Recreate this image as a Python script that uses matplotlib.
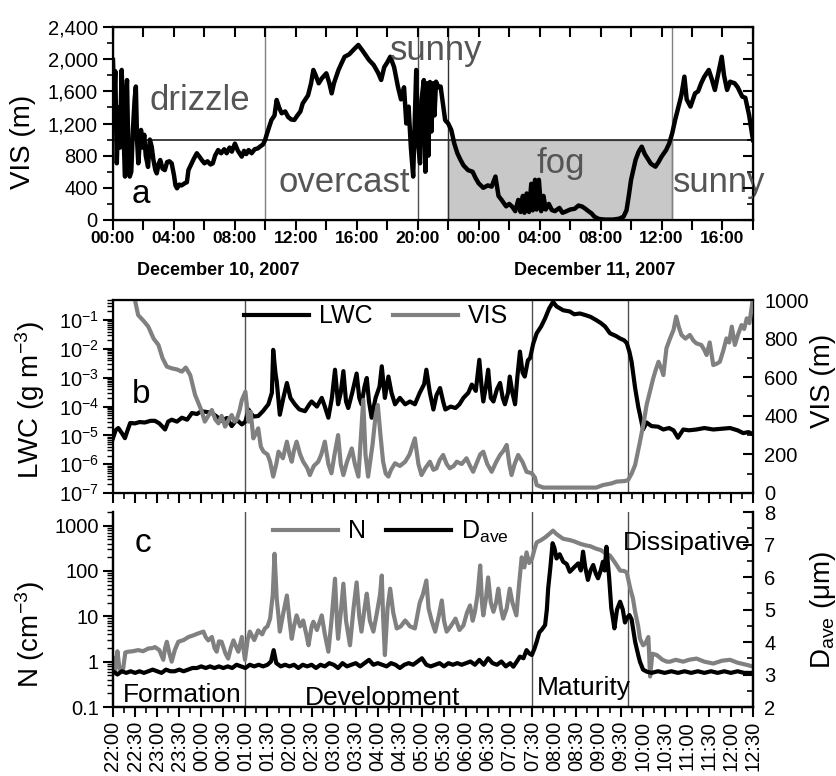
import numpy as np
import matplotlib
matplotlib.use("Agg")
import matplotlib.pyplot as plt
from matplotlib.ticker import FixedLocator, MultipleLocator, StrMethodFormatter, LogLocator, NullFormatter, FixedFormatter

plt.rcParams['font.family'] = ['Liberation Sans', 'DejaVu Sans']
plt.rcParams['mathtext.fontset'] = 'custom'
plt.rcParams['mathtext.rm'] = 'Liberation Sans'
plt.rcParams['mathtext.it'] = 'Liberation Sans:italic'
plt.rcParams['mathtext.default'] = 'regular'

# ---- panel a : visibility, hours since Dec 10 00:00
a_hours = [0.00, 0.08, 0.15, 0.25, 0.35, 0.45, 0.57, 0.68, 0.79, 0.85, 0.92, 1.00, 1.10, 1.20, 1.30,
           1.42, 1.50, 1.58, 1.66, 1.75, 1.84, 1.95, 2.05, 2.15, 2.30, 2.42, 2.54, 2.65, 2.78, 2.87,
           3.00, 3.10, 3.25, 3.40, 3.55, 3.70, 3.85, 4.00, 4.10, 4.20, 4.35, 4.50, 4.70, 4.85, 4.95,
           5.15, 5.30, 5.50, 5.70, 5.85, 6.00, 6.20, 6.40, 6.55, 6.70, 6.90, 7.10, 7.30, 7.46, 7.65,
           7.80, 8.00, 8.20, 8.45, 8.60, 8.75, 8.90, 9.10, 9.30, 9.50, 9.70, 9.85, 9.98, 10.15, 10.40,
           10.60, 10.74, 10.90, 11.07, 11.30, 11.50, 11.70, 11.90, 12.10, 12.30, 12.45, 12.60, 12.80,
           13.00, 13.15, 13.30, 13.50, 13.70, 14.00, 14.20, 14.35, 14.50, 14.80, 15.00, 15.20, 15.50,
           15.80, 16.10, 16.40, 16.80, 17.10, 17.40, 17.60, 17.80, 18.00, 18.20, 18.45, 18.70, 18.90,
           19.10, 19.25, 19.40, 19.55, 19.70, 19.80, 19.90, 20.00, 20.15, 20.25, 20.40, 20.50, 20.60,
           20.70, 20.80, 20.90, 21.00, 21.10, 21.20, 21.35, 21.50, 21.65, 21.80, 22.00, 22.20, 22.40,
           22.60, 22.80, 23.00, 23.30, 23.60, 23.80, 24.00, 24.30, 24.60, 24.85, 25.10, 25.30, 25.50,
           25.80, 26.00, 26.20, 26.40, 26.60, 26.75, 26.90, 27.00, 27.15, 27.30, 27.45, 27.55, 27.70,
           27.80, 27.95, 28.10, 28.25, 28.40, 28.60, 28.80, 29.00, 29.30, 29.50, 29.70, 30.00, 30.30,
           30.55, 30.80, 31.00, 31.20, 31.40, 31.60, 31.90, 32.30, 32.80, 33.20, 33.50, 33.70, 33.85,
           34.00, 34.30, 34.50, 34.70, 34.90, 35.10, 35.30, 35.60, 35.80, 36.00, 36.30, 36.50, 36.70,
           36.90, 37.10, 37.30, 37.50, 37.65, 37.90, 38.20, 38.40, 38.60, 38.80, 39.10, 39.30, 39.50,
           39.70, 39.95, 40.10, 40.30, 40.50, 40.80, 41.00, 41.30, 41.50, 41.75, 42.00]
a_vis = [1990, 1500, 1850, 705, 1400, 900, 1866, 1100, 540, 1500, 1740, 900, 540, 600, 1100,
         1500, 1660, 1000, 705, 950, 1120, 900, 1060, 800, 660, 1000, 912, 750, 620, 580,
         700, 746, 640, 620, 720, 730, 705, 560, 430, 394, 440, 430, 456, 470, 620,
         700, 760, 830, 780, 740, 705, 730, 690, 705, 800, 870, 830, 880, 830, 900,
         850, 950, 860, 788, 860, 820, 870, 830, 880, 890, 920, 940, 995, 1100, 1244,
         1300, 1493, 1400, 1327, 1350, 1280, 1250, 1244, 1300, 1350, 1450, 1493, 1550,
         1700, 1866, 1800, 1700, 1760, 1824, 1700, 1575, 1700, 1866, 1950, 2030, 2060,
         2120, 2177, 2100, 1990, 1930, 1830, 1741, 1900, 1960, 2030, 1900, 1658, 1500,
         1650, 1200, 1410, 900, 540, 1200, 1866, 1000, 705, 1500, 1740, 600, 1700,
         800, 1716, 1100, 1700, 1300, 1720, 1650, 1660, 1450, 1240, 1200, 1120, 950,
         830, 750, 680, 620, 600, 520, 456, 400, 430, 415, 540, 300, 250,
         170, 200, 166, 110, 250, 100, 300, 90, 330, 100, 450, 120, 500,
         130, 500, 110, 300, 130, 200, 124, 110, 150, 90, 104, 130, 140,
         180, 166, 140, 110, 83, 40, 12, 5, 5, 15, 40, 120, 300,
         500, 750, 850, 912, 820, 760, 700, 663, 720, 788, 870, 950, 1078,
         1250, 1400, 1550, 1783, 1500, 1410, 1575, 1600, 1700, 1780, 1866, 1750, 1617,
         1800, 2030, 1800, 1617, 1720, 1700, 1650, 1534, 1520, 1300, 995]
a_xticklabels = ['00:00', '04:00', '08:00', '12:00', '16:00', '20:00',
                 '00:00', '04:00', '08:00', '12:00', '16:00']
a_dates = ['December 10, 2007', 'December 11, 2007']
a_vlines = [10.0, 20.0, 22.0, 36.7]
vis_threshold = 1000
fog_start, fog_end = 22.0, 36.7

# ---- panels b, c : hours since Dec 10 22:00
bc_xticklabels = ['22:00', '22:30', '23:00', '23:30', '00:00', '00:30', '01:00', '01:30',
                  '02:00', '02:30', '03:00', '03:30', '04:00', '04:30', '05:00', '05:30',
                  '06:00', '06:30', '07:00', '07:30', '08:00', '08:30', '09:00', '09:30',
                  '10:00', '10:30', '11:00', '11:30', '12:00', '12:30']
phase_bounds = [3.0, 9.5, 11.67]

lwc_t = [0.00, 0.06, 0.12, 0.20, 0.27, 0.33, 0.39, 0.50, 0.60, 0.72, 0.85, 0.95, 1.05, 1.18, 1.25,
         1.33, 1.45, 1.56, 1.68, 1.79, 1.90, 2.00, 2.12, 2.24, 2.35, 2.46, 2.58, 2.69, 2.80, 2.92,
         3.00, 3.07, 3.18, 3.29, 3.40, 3.52, 3.60, 3.63, 3.68, 3.71, 3.78, 3.86, 3.94, 4.02, 4.12,
         4.22, 4.35, 4.45, 4.50, 4.62, 4.73, 4.80, 4.88, 4.96, 5.03, 5.10, 5.16, 5.22, 5.28, 5.33,
         5.42, 5.52, 5.58, 5.63, 5.70, 5.75, 5.80, 5.86, 5.95, 6.04, 6.09, 6.16, 6.24, 6.31, 6.39,
         6.50, 6.62, 6.73, 6.84, 6.95, 7.05, 7.10, 7.18, 7.26, 7.33, 7.41, 7.48, 7.53, 7.65, 7.76,
         7.85, 7.94, 8.05, 8.13, 8.22, 8.30, 8.35, 8.39, 8.45, 8.50, 8.56, 8.62, 8.70, 8.77, 8.83,
         8.88, 8.95, 8.99, 9.05, 9.11, 9.16, 9.22, 9.28, 9.33, 9.40, 9.45, 9.52, 9.60, 9.70, 9.79,
         9.88, 9.97, 10.05, 10.20, 10.35, 10.45, 10.58, 10.70, 10.82, 10.95, 11.05, 11.15, 11.26,
         11.40, 11.49, 11.58, 11.64, 11.70, 11.75, 11.83, 11.90, 11.94, 12.01, 12.09, 12.20, 12.35,
         12.47, 12.60, 12.70, 12.80, 12.92, 13.05, 13.22, 13.40, 13.60, 13.80, 13.98, 14.15, 14.28,
         14.40, 14.50]
lwc = [8e-6, 1.5e-5, 1.8e-5, 1.2e-5, 8e-6, 1.5e-5, 2.7e-5, 2.6e-5, 2.9e-5, 2.8e-5, 3.2e-5, 3.2e-5,
       2.6e-5, 1.6e-5, 3.0e-5, 3.5e-5, 3.0e-5, 4.1e-5, 3.5e-5, 6.0e-5, 5.5e-5, 6.9e-5, 6.5e-5,
       6.0e-5, 4.5e-5, 3.2e-5, 4.0e-5, 2.1e-5, 3.5e-5, 2.4e-5, 3.0e-5, 7.9e-5, 4.5e-5, 4.7e-5,
       7.0e-5, 1.2e-4, 3.0e-4, 9.3e-3, 1.5e-3, 7.4e-4, 5.2e-5, 2.0e-4, 6.6e-4, 2.0e-4, 1.2e-4,
       8.0e-5, 6.9e-5, 1.2e-4, 1.5e-4, 1.0e-4, 2.0e-4, 1.0e-4, 4.1e-5, 2.0e-4, 1.9e-3, 1.2e-4,
       3.0e-4, 1.7e-3, 1.5e-4, 8.9e-5, 3.0e-4, 1.4e-3, 2.0e-4, 1.2e-4, 5.0e-4, 9.8e-4, 1.5e-4,
       4.1e-5, 2.0e-4, 5.0e-4, 2.5e-3, 2.0e-4, 1.1e-3, 3.0e-4, 1.2e-4, 2.0e-4, 1.2e-4, 1.5e-4,
       1.2e-4, 3.0e-4, 6.0e-4, 1.9e-3, 3.0e-4, 7.9e-5, 2.5e-4, 4.4e-4, 1.5e-4, 7.9e-5, 1.0e-4,
       8.9e-5, 1.2e-4, 2.0e-4, 3.0e-4, 5.8e-4, 3.5e-4, 4.2e-3, 5.0e-4, 1.5e-4, 5.0e-4, 1.9e-3,
       2.0e-4, 1.5e-4, 4.0e-4, 6.6e-4, 2.0e-4, 1.2e-4, 3.0e-4, 1.1e-3, 3.0e-4, 1.2e-4, 1.0e-3,
       8.1e-3, 1.5e-3, 1.1e-3, 4.0e-3, 4.8e-3, 1.5e-2, 3.5e-2, 6.0e-2, 1.15e-1, 2.5e-1, 4.3e-1,
       3.0e-1, 2.2e-1, 2.0e-1, 1.6e-1, 1.7e-1, 1.5e-1, 1.3e-1, 1.0e-1, 8.0e-2, 6.0e-2, 3.5e-2,
       2.8e-2, 2.3e-2, 2.0e-2, 1.6e-2, 8.0e-3, 3.6e-3, 4.4e-4, 1.0e-4, 5.2e-5, 1.6e-5, 2.8e-5,
       2.1e-5, 2.0e-5, 1.6e-5, 1.8e-5, 1.5e-5, 8.3e-6, 1.6e-5, 1.5e-5, 1.6e-5, 1.8e-5, 1.6e-5,
       1.7e-5, 1.8e-5, 1.5e-5, 1.2e-5, 1.3e-5, 1.1e-5]

visb_t = [0.45, 0.57, 0.70, 0.80, 0.92, 1.03, 1.12, 1.22, 1.33, 1.45, 1.56, 1.65, 1.75, 1.86, 2.00,
          2.08, 2.16, 2.24, 2.32, 2.39, 2.46, 2.54, 2.62, 2.69, 2.75, 2.80, 2.87, 2.92, 3.00, 3.07,
          3.12, 3.18, 3.24, 3.29, 3.35, 3.41, 3.50, 3.56, 3.63, 3.70, 3.75, 3.85, 3.94, 4.00, 4.05,
          4.10, 4.16, 4.24, 4.31, 4.40, 4.46, 4.55, 4.65, 4.72, 4.80, 4.88, 4.95, 5.02, 5.10, 5.16,
          5.22, 5.30, 5.41, 5.48, 5.56, 5.62, 5.67, 5.72, 5.78, 5.88, 5.95, 6.00, 6.06, 6.12, 6.18,
          6.24, 6.30, 6.39, 6.50, 6.62, 6.72, 6.84, 6.92, 6.99, 7.08, 7.18, 7.26, 7.33, 7.40, 7.48,
          7.56, 7.63, 7.72, 7.79, 7.90, 8.01, 8.09, 8.16, 8.25, 8.32, 8.39, 8.48, 8.58, 8.68, 8.77,
          8.85, 8.92, 8.98, 9.03, 9.10, 9.18, 9.28, 9.37, 9.49, 9.56, 9.60, 9.75, 10.50, 10.95,
          11.10, 11.30, 11.41, 11.60, 11.67, 11.75, 11.83, 11.94, 12.02, 12.09, 12.17, 12.24,
          12.30, 12.36, 12.43, 12.47, 12.54, 12.62, 12.70, 12.76, 12.82, 12.88, 12.97, 13.07,
          13.15, 13.22, 13.33, 13.40, 13.45, 13.52, 13.60, 13.68, 13.75, 13.83, 13.90, 13.96,
          14.02, 14.09, 14.16, 14.24, 14.30, 14.36, 14.42, 14.50]
visb = [1050, 922, 890, 862, 800, 767, 700, 655, 646, 640, 629, 650, 611, 508, 430,
        370, 400, 430, 380, 361, 400, 344, 380, 404, 370, 378, 430, 482, 525, 370,
        420, 283, 310, 335, 240, 214, 200, 162, 85, 150, 214, 180, 266, 200, 162,
        220, 266, 200, 162, 130, 93, 140, 162, 200, 266, 150, 102, 200, 300, 150,
        93, 160, 231, 150, 85, 300, 482, 200, 85, 250, 400, 456, 300, 162, 100,
        85, 120, 154, 140, 162, 200, 283, 150, 93, 130, 162, 120, 128, 170, 197,
        150, 128, 140, 162, 150, 180, 140, 110, 160, 200, 214, 150, 110, 160, 197,
        220, 249, 150, 93, 150, 197, 160, 110, 102, 80, 41, 28, 28, 28,
        41, 50, 59, 62, 67, 100, 145, 266, 360, 456, 530, 594,
        640, 680, 640, 611, 750, 800, 845, 914, 860, 819, 800, 819,
        790, 775, 767, 740, 715, 780, 663, 670, 680, 740, 801, 780,
        862, 767, 820, 870, 850, 905, 880, 1009]

n_t = [0.00, 0.05, 0.10, 0.14, 0.18, 0.23, 0.28, 0.35, 0.45, 0.57, 0.68, 0.80, 0.90, 0.95, 1.05,
       1.14, 1.18, 1.22, 1.28, 1.33, 1.40, 1.48, 1.60, 1.71, 1.82, 1.93, 2.05, 2.10, 2.16, 2.24,
       2.30, 2.35, 2.40, 2.46, 2.55, 2.61, 2.67, 2.73, 2.80, 2.84, 2.92, 2.99, 3.05, 3.10, 3.20,
       3.29, 3.38, 3.44, 3.50, 3.56, 3.62, 3.66, 3.71, 3.75, 3.78, 3.86, 3.94, 4.00, 4.05, 4.10,
       4.16, 4.24, 4.31, 4.38, 4.43, 4.50, 4.54, 4.62, 4.73, 4.80, 4.88, 4.95, 5.03, 5.08, 5.10,
       5.16, 5.22, 5.28, 5.37, 5.45, 5.52, 5.58, 5.63, 5.70, 5.75, 5.82, 5.90, 5.98, 6.05, 6.09,
       6.12, 6.16, 6.22, 6.28, 6.35, 6.43, 6.52, 6.62, 6.73, 6.84, 6.95, 7.02, 7.10, 7.15, 7.22,
       7.30, 7.38, 7.45, 7.50, 7.56, 7.65, 7.76, 7.85, 7.94, 8.02, 8.09, 8.15, 8.20, 8.26, 8.32,
       8.36, 8.39, 8.45, 8.50, 8.56, 8.62, 8.68, 8.73, 8.79, 8.84, 8.92, 8.99, 9.05, 9.14, 9.20,
       9.26, 9.32, 9.37, 9.43, 9.49, 9.55, 9.60, 9.70, 9.79, 9.88, 9.97, 10.05, 10.20, 10.35,
       10.45, 10.58, 10.70, 10.82, 10.95, 11.05, 11.15, 11.26, 11.38, 11.49, 11.58, 11.64, 11.72,
       11.78, 11.83, 11.90, 11.94, 12.01, 12.06, 12.13, 12.17, 12.22, 12.32, 12.45, 12.55, 12.62,
       12.75, 12.92, 13.05, 13.22, 13.40, 13.60, 13.80, 13.98, 14.15, 14.36, 14.50]
n_conc = [1.2, 0.6, 1.7, 0.8, 0.6, 0.7, 1.6, 1.66, 1.7, 1.8, 1.7, 1.95, 2.0, 2.1, 1.8,
          1.1, 2.0, 2.75, 1.5, 1.0, 1.8, 2.75, 3.0, 3.5, 3.8, 4.2, 4.6, 3.5, 2.95, 3.5,
          2.0, 1.66, 2.8, 2.75, 1.5, 1.17, 2.0, 2.95, 2.0, 1.66, 3.5, 1.1, 3.0, 4.6, 3.0,
          4.9, 4.0, 5.4, 6.0, 8.9, 30, 240, 24.5, 10, 4.6, 12, 28.8, 8, 3.2, 6,
          10.5, 6, 8.1, 4, 2.3, 6, 7.6, 5, 10.5, 4, 1.66, 8, 67.6, 6, 3.2,
          12, 52.5, 8, 2.3, 15, 56, 10, 4.6, 15, 31.6, 8, 4.6, 12, 30, 79.4,
          10, 1.4, 15, 40.7, 12, 5.4, 6, 8.1, 6, 5.4, 20, 30, 61.7, 15, 8,
          4.6, 10, 22.4, 8, 4.6, 6, 8.9, 5, 6.3, 12, 17.4, 8, 12.6, 30, 132,
          20, 10.5, 25, 72, 20, 12.6, 20, 40.7, 15, 8.9, 15, 40.7, 20, 10.5, 50,
          200, 120, 257, 150, 182, 300, 427, 480, 550, 650, 776, 650, 513, 480,
          450, 400, 370, 350, 309, 290, 250, 219, 150, 102, 100, 93, 41,
          25, 12.6, 6, 3.2, 2.3, 2.5, 3.5, 0.47, 1.5, 1.4, 1.1, 1.0, 1.0,
          1.1, 1.0, 1.1, 1.17, 1.0, 0.91, 1.05, 1.1, 0.95, 0.85, 0.78]

d_t = [0.00, 0.10, 0.20, 0.30, 0.40, 0.50, 0.60, 0.70, 0.80, 0.90, 1.00, 1.10, 1.20, 1.30, 1.40,
       1.50, 1.60, 1.70, 1.80, 1.90, 2.00, 2.10, 2.20, 2.30, 2.40, 2.50, 2.60, 2.70, 2.80, 2.90,
       3.00, 3.10, 3.20, 3.30, 3.40, 3.50, 3.58, 3.64, 3.70, 3.80, 3.90, 4.00, 4.10, 4.20, 4.30,
       4.40, 4.50, 4.60, 4.70, 4.80, 4.90, 5.00, 5.10, 5.20, 5.30, 5.40, 5.50, 5.60, 5.70, 5.80,
       5.90, 6.00, 6.10, 6.20, 6.30, 6.40, 6.50, 6.60, 6.70, 6.80, 6.90, 7.00, 7.10, 7.20, 7.30,
       7.40, 7.50, 7.60, 7.70, 7.80, 7.90, 8.00, 8.10, 8.20, 8.30, 8.40, 8.50, 8.60, 8.70, 8.80,
       8.90, 9.00, 9.07, 9.15, 9.22, 9.30, 9.37, 9.43, 9.49, 9.55, 9.60, 9.66, 9.71, 9.79, 9.83,
       9.86, 9.91, 9.96, 10.00, 10.05, 10.12, 10.20, 10.28, 10.35, 10.45, 10.54, 10.60, 10.65,
       10.70, 10.76, 10.82, 10.88, 10.94, 10.99, 11.05, 11.10, 11.14, 11.18, 11.24, 11.29, 11.33,
       11.36, 11.42, 11.49, 11.55, 11.60, 11.64, 11.70, 11.75, 11.83, 11.90, 11.94, 12.01, 12.09,
       12.20, 12.35, 12.50, 12.65, 12.80, 12.95, 13.10, 13.25, 13.40, 13.55, 13.70, 13.85, 14.00,
       14.15, 14.30, 14.50]
d_ave = [3.1, 3.0, 3.1, 3.05, 3.1, 3.05, 3.1, 3.05, 3.1, 3.15, 3.1, 3.05, 3.15, 3.1, 3.1,
         3.15, 3.1, 3.15, 3.2, 3.2, 3.25, 3.2, 3.25, 3.2, 3.25, 3.2, 3.25, 3.2, 3.3, 3.25,
         3.2, 3.3, 3.25, 3.3, 3.25, 3.3, 3.4, 3.75, 3.35, 3.25, 3.3, 3.25, 3.3, 3.2, 3.3,
         3.25, 3.3, 3.2, 3.3, 3.25, 3.35, 3.3, 3.2, 3.35, 3.25, 3.3, 3.35, 3.25, 3.35, 3.45,
         3.3, 3.35, 3.3, 3.25, 3.35, 3.3, 3.2, 3.3, 3.35, 3.3, 3.4, 3.5, 3.3, 3.25, 3.3,
         3.35, 3.25, 3.35, 3.3, 3.35, 3.3, 3.35, 3.4, 3.3, 3.45, 3.3, 3.5, 3.35, 3.3, 3.4,
         3.25, 3.35, 3.24, 3.4, 3.55, 3.5, 3.75, 3.65, 3.6, 3.8, 4.01, 4.3, 4.37, 4.52, 5.0,
         5.65, 6.3, 7.04, 6.9, 6.57, 6.7, 6.47, 6.4, 6.16, 6.3, 6.42, 6.2, 6.78,
         6.3, 5.91, 6.2, 6.37, 6.1, 5.96, 6.2, 6.47, 6.2, 6.93, 6.0, 5.04, 4.7,
         4.42, 5.0, 5.24, 5.0, 4.6, 4.73, 4.83, 4.7, 4.01, 3.6, 3.39, 3.15, 3.09,
         3.05, 3.1, 3.05, 3.1, 3.05, 3.1, 3.05, 3.1, 3.05, 3.1, 3.05, 3.1, 3.05,
         3.1, 3.05, 3.05]

grey = '#808080'
txt_grey = '#555555'
tick_fs = 14.5

fig = plt.figure(figsize=(8.37, 7.76), dpi=100)
ax_a = fig.add_axes([0.135, 0.7165, 0.7646, 0.2487])
ax_b = fig.add_axes([0.135, 0.3647, 0.7646, 0.2487])
ax_c = fig.add_axes([0.135, 0.0889, 0.7646, 0.2513])

def style_axes(ax):
    for s in ax.spines.values():
        s.set_linewidth(1.6)

# ---------------- panel a
style_axes(ax_a)
ax_a.fill_between([fog_start, fog_end], 0, vis_threshold, facecolor='#c8c8c8',
                  edgecolor=grey, linewidth=1.0, zorder=1)
ax_a.axhline(vis_threshold, color='#303030', lw=1.3, zorder=2)
for xv, col in zip(a_vlines, [grey, '#505050', '#303030', grey]):
    ax_a.axvline(xv, color=col, lw=1.0, zorder=2)
ax_a.plot(a_hours, a_vis, color='black', lw=3.2, zorder=3)
ax_a.set_xlim(0, 42)
ax_a.set_ylim(0, 2400)
ax_a.xaxis.set_major_locator(FixedLocator(np.arange(0, 41, 4)))
ax_a.xaxis.set_major_formatter(FixedFormatter(a_xticklabels))
ax_a.xaxis.set_minor_locator(MultipleLocator(2))
ax_a.yaxis.set_major_locator(MultipleLocator(400))
ax_a.yaxis.set_minor_locator(MultipleLocator(200))
ax_a.yaxis.set_major_formatter(StrMethodFormatter('{x:,.0f}'))
ax_a.tick_params(axis='x', which='both', direction='out', length=7, width=1.5,
                 labelsize=12.5, pad=1)
ax_a.tick_params(axis='y', which='major', direction='out', length=7, width=1.5,
                 labelsize=tick_fs, pad=4)
ax_a.tick_params(axis='y', which='minor', direction='out', length=4, width=1.2)
for lab in ax_a.get_xticklabels():
    lab.set_fontweight('bold')
ax_a2 = ax_a.twinx()
ax_a2.set_ylim(0, 2400)
ax_a2.yaxis.set_major_locator(MultipleLocator(400))
ax_a2.yaxis.set_minor_locator(MultipleLocator(200))
ax_a2.tick_params(axis='y', which='major', direction='in', length=7, width=1.5, labelright=False)
ax_a2.tick_params(axis='y', which='minor', direction='in', length=4, width=1.2)
ax_a3 = ax_a.twiny()
ax_a3.set_xlim(0, 42)
ax_a3.xaxis.set_major_locator(MultipleLocator(2))
ax_a3.tick_params(axis='x', direction='in', length=7, width=1.5, labeltop=False)

ax_a.text(5.7, 1368, 'drizzle', color=txt_grey, fontsize=25, ha='center', va='baseline')
ax_a.text(15.16, 348, 'overcast', color=txt_grey, fontsize=25, ha='center', va='baseline')
ax_a.text(21.2, 1990, 'sunny', color=txt_grey, fontsize=25, ha='center', va='baseline')
ax_a.text(29.4, 585, 'fog', color=txt_grey, fontsize=25, ha='center', va='baseline')
ax_a.text(36.75, 348, 'sunny', color=txt_grey, fontsize=25, ha='left', va='baseline')
ax_a.text(1.8, 211, 'a', color='black', fontsize=24, ha='center', va='baseline')
fig.text(0.028, 0.817, 'VIS (m)', rotation=90, fontsize=20, ha='center', va='center')
fig.text(218 / 837, 1 - 270 / 776, a_dates[0], fontsize=13, fontweight='bold', ha='center', va='center')
fig.text(595 / 837, 1 - 270 / 776, a_dates[1], fontsize=13, fontweight='bold', ha='center', va='center')

# ---------------- panel b
style_axes(ax_b)
for xv in phase_bounds:
    ax_b.axvline(xv, color='#505050', lw=1.0, zorder=1)
l_lwc, = ax_b.plot(lwc_t, lwc, color='black', lw=3.0, label='LWC')
ax_b.set_yscale('log')
ax_b.set_ylim(1e-7, 0.5)
ax_b.set_xlim(0, 14.5)
ax_b.yaxis.set_major_locator(LogLocator(base=10, numticks=12))
ax_b.yaxis.set_minor_locator(LogLocator(base=10, subs=np.arange(2, 10), numticks=12))
ax_b.yaxis.set_minor_formatter(NullFormatter())
ax_b.tick_params(axis='y', which='major', direction='out', length=7, width=1.5, labelsize=tick_fs, pad=3)
ax_b.tick_params(axis='y', which='minor', direction='out', length=4, width=1.0)
ax_b.xaxis.set_major_locator(MultipleLocator(0.5))
ax_b.xaxis.set_minor_locator(MultipleLocator(0.25))
ax_b.tick_params(axis='x', which='major', direction='out', length=7, width=1.5, labelbottom=False)
ax_b.tick_params(axis='x', which='minor', direction='out', length=4, width=1.2)

ax_b2 = ax_b.twinx()
l_vis, = ax_b2.plot(visb_t, visb, color=grey, lw=3.0, label='VIS')
ax_b2.set_ylim(0, 1000)
ax_b2.yaxis.set_major_locator(MultipleLocator(200))
ax_b2.yaxis.set_minor_locator(MultipleLocator(100))
ax_b2.tick_params(axis='y', which='major', direction='in', length=7, width=1.5, labelsize=tick_fs, pad=8)
ax_b2.tick_params(axis='y', which='minor', direction='in', length=4, width=1.2)
ax_b2.legend(handles=[l_lwc, l_vis], loc='center left', bbox_to_anchor=(0.205, 0.915),
             ncol=2, frameon=False, fontsize=18, handlelength=2.6, handletextpad=0.4,
             columnspacing=0.8, borderaxespad=0, borderpad=0)
ax_b.text(0.044, 0.466, 'b', transform=ax_b.transAxes, fontsize=24, ha='center', va='baseline')
fig.text(0.036, 1 - 400 / 776, 'LWC (g m$^{-3}$)', rotation=90, fontsize=20, ha='center', va='center')
fig.text(0.983, 1 - 381 / 776, 'VIS (m)', rotation=90, fontsize=20, ha='center', va='center')

# ---------------- panel c
style_axes(ax_c)
for xv in phase_bounds:
    ax_c.axvline(xv, color='#505050', lw=1.0, zorder=1)
l_n, = ax_c.plot(n_t, n_conc, color=grey, lw=3.0, label='N')
ax_c.set_yscale('log')
ax_c.set_ylim(0.1, 2000)
ax_c.set_xlim(0, 14.5)
ax_c.yaxis.set_major_locator(FixedLocator([0.1, 1, 10, 100, 1000]))
ax_c.yaxis.set_major_formatter(FixedFormatter(['0.1', '1', '10', '100', '1000']))
ax_c.yaxis.set_minor_locator(LogLocator(base=10, subs=np.arange(2, 10), numticks=12))
ax_c.yaxis.set_minor_formatter(NullFormatter())
ax_c.tick_params(axis='y', which='major', direction='out', length=7, width=1.5, labelsize=tick_fs, pad=3)
ax_c.tick_params(axis='y', which='minor', direction='out', length=4, width=1.0)
ax_c.xaxis.set_major_locator(FixedLocator(np.arange(0, 14.51, 0.5)))
ax_c.xaxis.set_major_formatter(FixedFormatter(bc_xticklabels))
ax_c.xaxis.set_minor_locator(MultipleLocator(0.25))
ax_c.tick_params(axis='x', which='major', direction='out', length=7, width=1.5,
                 labelsize=14.5, labelrotation=90, pad=3)
ax_c.tick_params(axis='x', which='minor', direction='out', length=4, width=1.2)
ax_c.spines['top'].set_visible(False)

ax_c2 = ax_c.twinx()
l_d, = ax_c2.plot(d_t, d_ave, color='black', lw=3.0, label='D$_{ave}$')
ax_c2.set_ylim(2, 8)
ax_c2.spines['top'].set_visible(False)
for s in ax_c2.spines.values():
    s.set_linewidth(1.6)
ax_c2.yaxis.set_major_locator(MultipleLocator(1))
ax_c2.yaxis.set_minor_locator(MultipleLocator(0.5))
ax_c2.tick_params(axis='y', which='major', direction='in', length=7, width=1.5, labelsize=tick_fs, pad=8)
ax_c2.tick_params(axis='y', which='minor', direction='in', length=4, width=1.2)
ax_c2.legend(handles=[l_n, l_d], loc='center left', bbox_to_anchor=(0.25, 0.9),
             ncol=2, frameon=False, fontsize=18, handlelength=2.6, handletextpad=0.4,
             columnspacing=0.8, borderaxespad=0, borderpad=0)
ax_c.text(0.047, 0.795, 'c', transform=ax_c.transAxes, fontsize=24, ha='center', va='baseline')
ax_c.text(0.016, 0.026, 'Formation', transform=ax_c.transAxes, fontsize=19, ha='left', va='baseline')
ax_c.text(0.30, 0.01, 'Development', transform=ax_c.transAxes, fontsize=19, ha='left', va='baseline')
ax_c.text(0.6625, 0.062, 'Maturity', transform=ax_c.transAxes, fontsize=19, ha='left', va='baseline')
ax_c2.text(0.797, 0.805, 'Dissipative', transform=ax_c.transAxes, fontsize=19, ha='left', va='baseline')
fig.text(0.036, 1 - 635 / 776, 'N (cm$^{-3}$)', rotation=90, fontsize=20, ha='center', va='center')
fig.text(0.983, 1 - 610 / 776, 'D$_{ave}$ ($\\mu$m)', rotation=90, fontsize=20, ha='center', va='center')

fig.savefig('out.png', dpi=100)
